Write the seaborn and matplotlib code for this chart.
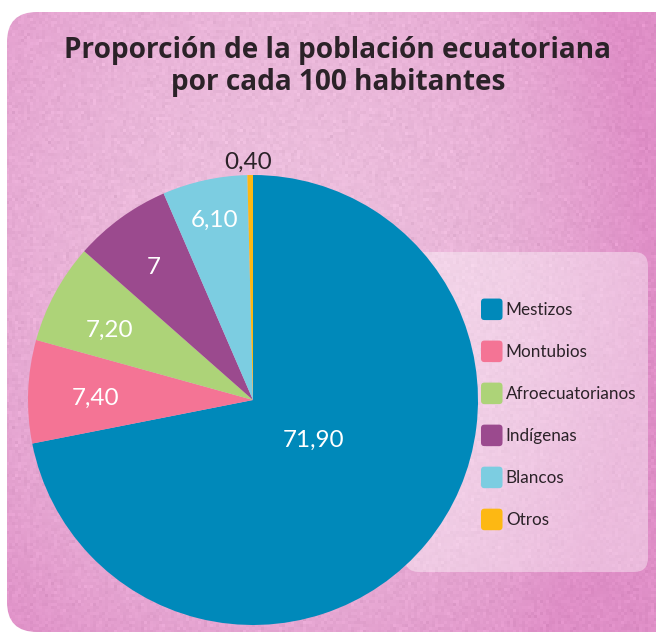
import numpy as np
import matplotlib
matplotlib.use("Agg")
import matplotlib.pyplot as plt
import seaborn as sns
from matplotlib.patches import FancyBboxPatch, Patch
from matplotlib.legend_handler import HandlerPatch

sns.set_theme(style="white")
plt.rcParams["font.family"] = ["Lato", "DejaVu Sans"]

# Population share per 100 inhabitants
groups = ["Mestizos", "Montubios", "Afroecuatorianos", "Indígenas", "Blancos", "Otros"]
shares = [71.90, 7.40, 7.20, 7.00, 6.10, 0.40]
share_labels = ["71,90", "7,40", "7,20", "7", "6,10", "0,40"]
colors = ["#0089BA", "#F47495", "#ADD378", "#9B4A8E", "#7CCDE1", "#FDB813"]
title_lines = ["Proporción de la población ecuatoriana", "por cada 100 habitantes"]

W, H = 656, 636
fig = plt.figure(figsize=(W / 100, H / 100), dpi=100)
fig.patch.set_facecolor("white")

# Background card with a soft pink paper texture
bg = fig.add_axes([0, 0, 1, 1])
bg.set_xlim(0, W)
bg.set_ylim(H, 0)
bg.axis("off")
card = FancyBboxPatch((7 + 30, 12 + 30), 690 - 60, 620 - 60,
                      boxstyle="round,pad=30", fc="none", ec="none")
bg.add_patch(card)
yy, xx = np.mgrid[0:H, 0:W]
base = np.array([0.925, 0.745, 0.865])
dark = np.array([0.875, 0.56, 0.78])
t = np.clip(((xx - 280) / 420) ** 2 + ((yy - 250) / 520) ** 2, 0, 1)
t = t + 0.25 * np.clip((xx - 500) / 156, 0, 1)
t = np.clip(t, 0, 1)
img = base[None, None, :] * (1 - t[..., None]) + dark[None, None, :] * t[..., None]
rng = np.random.default_rng(3)
grain = rng.normal(0, 1, (H // 3 + 1, W // 3 + 1))
grain = np.kron(grain, np.ones((3, 3)))[:H, :W]
img = np.clip(img + 0.012 * grain[..., None], 0, 1)
im = bg.imshow(img, extent=(0, W, H, 0), zorder=0)
im.set_clip_path(card)

# Translucent panel behind the legend
panel = FancyBboxPatch((405 + 14, 252 + 14), 243 - 28, 320 - 28,
                       boxstyle="round,pad=14", fc="white", ec="none", alpha=0.4, zorder=1)
bg.add_patch(panel)

for line, ybase in zip(title_lines, [58, 90]):
    bg.text(338, ybase, line, ha="center", va="baseline", fontsize=20.2,
            fontweight="bold", color="#2b2228", family=["Open Sans", "DejaVu Sans"])

# Pie
cx, cy, r = 253, 400, 225
ax = fig.add_axes([(cx - r) / W, (H - cy - r) / H, 2 * r / W, 2 * r / H])
ax.set_facecolor("none")
wedges, _ = ax.pie(shares, colors=colors, startangle=90, counterclock=False,
                   radius=1, wedgeprops=dict(linewidth=0))
ax.set_xlim(-1, 1)
ax.set_ylim(-1, 1)
ax.set_aspect("equal")
ax.axis("off")

# Where each value label sits, in units of the pie radius
label_xy = [(0.267, -0.178), (-0.698, 0.009), (-0.636, 0.311),
            (-0.44, 0.591), (-0.169, 0.80), (-0.022, 1.058)]
for (lx, ly), lab in zip(label_xy, share_labels):
    col = "#2b2228" if ly > 1 else "white"
    ax.text(lx, ly, lab, ha="center", va="center", fontsize=17.5, color=col)


class RoundHandler(HandlerPatch):
    def create_artists(self, legend, orig_handle, xdescent, ydescent, width, height, fontsize, trans):
        s = 10.5
        p = FancyBboxPatch((-xdescent + 2.5, -ydescent + (height - s) / 2), s, s,
                           boxstyle="round,pad=2.5", fc=orig_handle.get_facecolor(), ec="none",
                           transform=trans)
        return [p]


handles = [Patch(facecolor=c, label=g) for c, g in zip(colors, groups)]
fig.legend(handles=handles, loc="upper left", bbox_to_anchor=(481 / W, 1 - 300 / H),
           frameon=False, fontsize=12.3, handlelength=1.3, handleheight=1.3,
           handletextpad=0.15, labelspacing=1.37, borderpad=0, borderaxespad=0,
           handler_map={Patch: RoundHandler()}, labelcolor="#2b2228")

fig.savefig("out.png", dpi=100)
